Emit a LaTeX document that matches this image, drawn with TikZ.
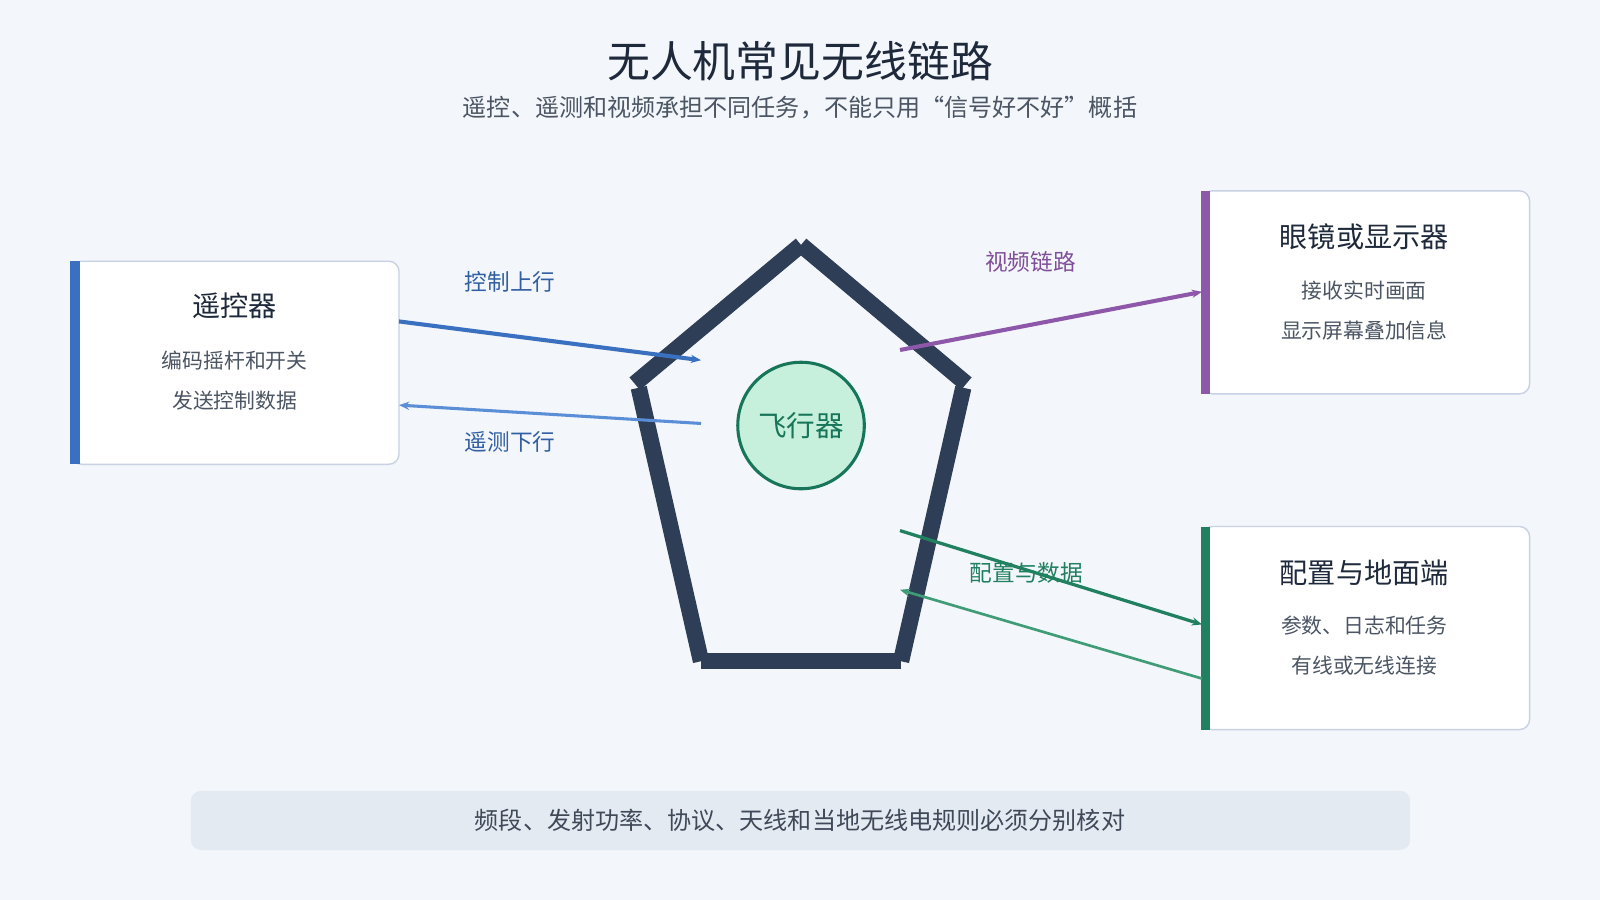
\documentclass[tikz,border=0pt]{standalone}
\usepackage{fontspec}
\setmainfont{Noto Sans CJK SC}
\usetikzlibrary{arrows.meta}
\definecolor{bg}{HTML}{F3F6FA}
\definecolor{dark}{HTML}{1E293B}
\definecolor{gray}{HTML}{4B5563}
\definecolor{bord}{HTML}{C9D2E3}
\definecolor{blueA}{HTML}{3A70C0}
\definecolor{blueB}{HTML}{5A8FD8}
\definecolor{purp}{HTML}{8E58AA}
\definecolor{grn}{HTML}{218060}
\definecolor{grnB}{HTML}{3F9C77}
\definecolor{pent}{HTML}{2E3E56}
\definecolor{circf}{HTML}{C6F0DC}
\definecolor{circd}{HTML}{17765A}
\definecolor{band}{HTML}{E3EAF2}
\begin{document}
\begin{tikzpicture}[x=0.5pt,y=-0.5pt,
  box/.style={draw=bord,line width=0.7pt,fill=white,rounded corners=5pt},
  btitle/.style={font=\fontsize{13.8}{16}\selectfont,text=dark},
  bline/.style={font=\fontsize{10.2}{12}\selectfont,text=gray},
  lab/.style={font=\fontsize{11.1}{13}\selectfont},
  arr/.style={-{Stealth[length=5pt,width=4pt]}}]
\useasboundingbox[fill=bg] (0,0) rectangle (1568,882);
\node[font=\fontsize{21}{25}\selectfont,text=dark] (title) at (784,60) {无人机常见无线链路};
\node[font=\fontsize{11.8}{14}\selectfont,text=gray] (sub) at (784,105) {遥控、遥测和视频承担不同任务，不能只用“信号好不好”概括};
% boxes
\draw[box] (70,256) rectangle (391,455);
\fill[blueA] (69,256) rectangle (78,455);
\node[btitle] (rc) at (230,300) {遥控器};
\node[bline] (rc1) at (230,353) {编码摇杆和开关};
\node[bline] (rc2) at (230,393) {发送控制数据};
\coordinate (rcA) at (391,315);
\coordinate (rcB) at (391,397);
\draw[box] (1178,187) rectangle (1499,386);
\fill[purp] (1177,187) rectangle (1186,386);
\node[btitle] (gl) at (1337,232) {眼镜或显示器};
\node[bline] (gl1) at (1337,285) {接收实时画面};
\node[bline] (gl2) at (1337,324) {显示屏幕叠加信息};
\coordinate (glA) at (1178,286);
\draw[box] (1178,516) rectangle (1499,715);
\fill[grn] (1177,516) rectangle (1186,715);
\node[btitle] (gs) at (1337,561) {配置与地面端};
\node[bline] (gs1) at (1337,613) {参数、日志和任务};
\node[bline] (gs2) at (1337,652) {有线或无线连接};
\coordinate (gsA) at (1178,612);
\coordinate (gsB) at (1178,665);
% pentagon
\begin{scope}[line width=8pt,line cap=butt]
\draw[pent] (785,240) -- (622,376);
\draw[pent] (785,240) -- (947,376);
\draw[pent] (626,380) -- (687,648);
\draw[pent] (944,380) -- (883,648);
\draw[pent] (687,648) -- (883,648);
\end{scope}
\node[circle,minimum size=124*0.5pt,fill=circf,draw=circd,line width=1.5pt,font=\fontsize{14}{16}\selectfont,text=circd] (fc) at (785,417) {飞行器};
\coordinate (dA) at (687,353);
\coordinate (dB) at (687,415);
\coordinate (dC) at (882,343);
\coordinate (dD) at (882,520);
\coordinate (dE) at (882,578);
% links
\draw[arr,blueA,line width=2pt] (rcA) -- (dA);
\node[lab,text=blueA!85!black] (l1) at (500,276) {控制上行};
\draw[arr,blueB,line width=1.5pt] (dB) -- (rcB);
\node[lab,text=blueA!85!black] (l2) at (500,433) {遥测下行};
\draw[arr,purp,line width=2pt] (dC) -- (glA);
\node[lab,text=purp!90!black] (l3) at (1010,257) {视频链路};
\draw[arr,grn,line width=1.6pt] (dD) -- (gsA);
\draw[arr,grnB,line width=1.3pt] (gsB) -- (dE);
\node[lab,text=grn] (l4) at (1006,561) {配置与数据};
% band
\fill[band,rounded corners=5pt] (187,775) rectangle (1382,833);
\node[font=\fontsize{11.8}{14}\selectfont,text=dark!85] (note) at (784,804) {频段、发射功率、协议、天线和当地无线电规则必须分别核对};
\end{tikzpicture}
\end{document}
